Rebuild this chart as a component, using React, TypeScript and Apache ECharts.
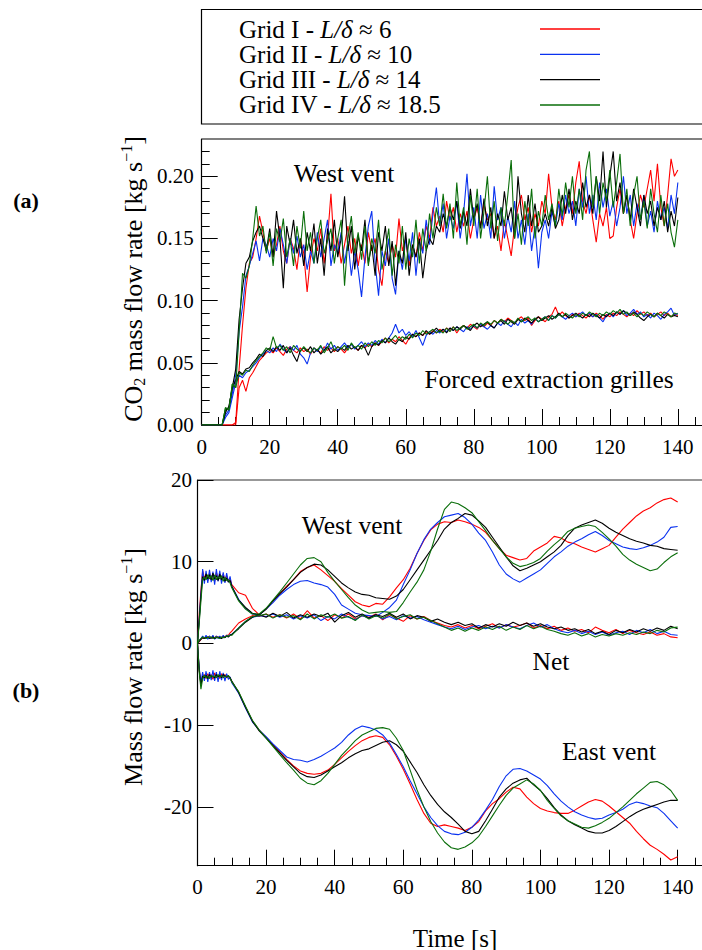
import React, { useEffect, useRef } from 'react';
import * as echarts from 'echarts';

// ---------- labels ----------
const GRID_NAMES = ['Grid I - L/δ ≈ 6', 'Grid II - L/δ ≈ 10', 'Grid III - L/δ ≈ 14', 'Grid IV - L/δ ≈ 18.5'];
const X_MAJOR = [0, 20, 40, 60, 80, 100, 120, 140];
const X_MINOR = [5, 10, 15, 25, 30, 35, 45, 50, 55, 65, 70, 75, 85, 90, 95, 105, 110, 115, 125, 130, 135, 145];
const YA_MAJOR = [0, 0.05, 0.1, 0.15, 0.2];
const YA_MINOR = [0.01, 0.02, 0.03, 0.04, 0.06, 0.07, 0.08, 0.09, 0.11, 0.12, 0.13, 0.14, 0.16, 0.17, 0.18, 0.19, 0.21, 0.22];
const YB_MAJOR = [-20, -10, 0, 10, 20];

// ---------- panel (a): time [s] 0..140 every 1 s ----------
const timeA = Array.from({ length: 141 }, (_, i) => i);

// CO2 mass flow rate, West vent [kg/s]
const westA_I = [0, 0, 0, 0, 0, 0, 0, 0, 0, 0, 0.002,
  0.045, 0.080, 0.110, 0.130, 0.135, 0.150, 0.168, 0.155, 0.140, 0.150,
  0.135, 0.145, 0.160, 0.140, 0.130, 0.150, 0.142, 0.125, 0.150, 0.138,
  0.107, 0.135, 0.150, 0.140, 0.158, 0.130, 0.150, 0.186, 0.140, 0.150,
  0.130, 0.145, 0.160, 0.138, 0.150, 0.128, 0.145, 0.130, 0.155, 0.140,
  0.150, 0.125, 0.112, 0.140, 0.130, 0.145, 0.135, 0.166, 0.140, 0.150,
  0.128, 0.145, 0.135, 0.155, 0.140, 0.160, 0.150, 0.175, 0.160, 0.168,
  0.155, 0.180, 0.165, 0.175, 0.155, 0.170, 0.160, 0.172, 0.150, 0.165,
  0.175, 0.160, 0.178, 0.165, 0.170, 0.150, 0.160, 0.140, 0.165, 0.150,
  0.136, 0.160, 0.175, 0.185, 0.165, 0.175, 0.155, 0.170, 0.160, 0.180,
  0.170, 0.202, 0.175, 0.165, 0.180, 0.160, 0.175, 0.185, 0.170, 0.195,
  0.212, 0.180, 0.170, 0.185, 0.165, 0.147, 0.170, 0.160, 0.175, 0.150,
  0.152, 0.175, 0.190, 0.170, 0.185, 0.165, 0.150, 0.170, 0.185, 0.175,
  0.190, 0.205, 0.180, 0.210, 0.175, 0.160, 0.185, 0.214, 0.200, 0.205];
const westA_II = [0, 0, 0, 0, 0, 0, 0, 0.008, 0.012, 0.025, 0.040,
  0.075, 0.095, 0.120, 0.128, 0.138, 0.148, 0.132, 0.150, 0.145, 0.135,
  0.150, 0.140, 0.158, 0.145, 0.130, 0.150, 0.138, 0.152, 0.135, 0.145,
  0.125, 0.140, 0.130, 0.155, 0.135, 0.150, 0.165, 0.128, 0.145, 0.138,
  0.155, 0.130, 0.148, 0.120, 0.140, 0.125, 0.103, 0.135, 0.160, 0.172,
  0.130, 0.104, 0.140, 0.128, 0.150, 0.118, 0.105, 0.140, 0.125, 0.150,
  0.132, 0.155, 0.120, 0.148, 0.138, 0.165, 0.145, 0.170, 0.191, 0.160,
  0.178, 0.150, 0.168, 0.158, 0.180, 0.150, 0.170, 0.202, 0.160, 0.175,
  0.150, 0.185, 0.158, 0.170, 0.150, 0.192, 0.165, 0.175, 0.150, 0.168,
  0.155, 0.180, 0.150, 0.165, 0.145, 0.170, 0.140, 0.160, 0.126, 0.155,
  0.165, 0.150, 0.172, 0.160, 0.178, 0.165, 0.185, 0.170, 0.180, 0.160,
  0.190, 0.175, 0.200, 0.170, 0.185, 0.165, 0.195, 0.175, 0.190, 0.168,
  0.180, 0.160, 0.175, 0.200, 0.170, 0.185, 0.160, 0.178, 0.165, 0.185,
  0.160, 0.172, 0.155, 0.180, 0.165, 0.175, 0.158, 0.185, 0.170, 0.195];
const westA_III = [0, 0, 0, 0, 0, 0, 0, 0.010, 0.015, 0.030, 0.045,
  0.085, 0.110, 0.130, 0.135, 0.148, 0.155, 0.160, 0.150, 0.140, 0.158,
  0.135, 0.172, 0.150, 0.110, 0.160, 0.145, 0.165, 0.138, 0.150, 0.128,
  0.155, 0.140, 0.162, 0.130, 0.150, 0.120, 0.158, 0.140, 0.165, 0.135,
  0.150, 0.184, 0.140, 0.160, 0.125, 0.152, 0.140, 0.165, 0.130, 0.145,
  0.120, 0.155, 0.140, 0.160, 0.128, 0.148, 0.112, 0.140, 0.130, 0.155,
  0.120, 0.145, 0.135, 0.150, 0.118, 0.140, 0.150, 0.145, 0.160, 0.155,
  0.170, 0.160, 0.175, 0.165, 0.180, 0.158, 0.172, 0.160, 0.190, 0.165,
  0.178, 0.158, 0.182, 0.160, 0.175, 0.150, 0.170, 0.160, 0.188, 0.165,
  0.175, 0.150, 0.200, 0.170, 0.155, 0.185, 0.160, 0.178, 0.155, 0.160,
  0.170, 0.160, 0.175, 0.158, 0.165, 0.185, 0.170, 0.190, 0.165, 0.180,
  0.170, 0.195, 0.175, 0.185, 0.170, 0.200, 0.180, 0.220, 0.175, 0.200,
  0.220, 0.180, 0.195, 0.170, 0.185, 0.165, 0.190, 0.175, 0.160, 0.185,
  0.170, 0.180, 0.160, 0.175, 0.165, 0.180, 0.155, 0.172, 0.160, 0.183];
const westA_IV = [0, 0, 0, 0, 0, 0, 0, 0.014, 0.012, 0.033, 0.030,
  0.075, 0.122, 0.118, 0.128, 0.150, 0.176, 0.152, 0.160, 0.138, 0.155,
  0.128, 0.158, 0.147, 0.166, 0.135, 0.150, 0.128, 0.160, 0.142, 0.172,
  0.140, 0.155, 0.130, 0.150, 0.165, 0.138, 0.148, 0.158, 0.130, 0.150,
  0.165, 0.112, 0.150, 0.168, 0.138, 0.155, 0.133, 0.160, 0.128, 0.150,
  0.138, 0.165, 0.125, 0.140, 0.158, 0.120, 0.145, 0.130, 0.160, 0.125,
  0.150, 0.135, 0.165, 0.130, 0.158, 0.140, 0.170, 0.150, 0.175, 0.160,
  0.186, 0.158, 0.178, 0.150, 0.195, 0.160, 0.175, 0.145, 0.185, 0.160,
  0.190, 0.150, 0.172, 0.200, 0.158, 0.180, 0.148, 0.175, 0.160, 0.185,
  0.213, 0.150, 0.170, 0.145, 0.180, 0.160, 0.190, 0.150, 0.172, 0.160,
  0.185, 0.165, 0.178, 0.160, 0.190, 0.168, 0.195, 0.175, 0.200, 0.170,
  0.190, 0.165, 0.205, 0.220, 0.175, 0.200, 0.170, 0.195, 0.180, 0.205,
  0.175, 0.195, 0.218, 0.170, 0.190, 0.160, 0.185, 0.200, 0.165, 0.180,
  0.158, 0.190, 0.170, 0.155, 0.185, 0.160, 0.178, 0.155, 0.143, 0.165];

// CO2 mass flow rate, forced extraction grilles [kg/s]
const grilleA_I = [0, 0, 0, 0, 0, 0, 0, 0, 0, 0, 0,
  0.030, 0.036, 0.027, 0.038, 0.042, 0.047, 0.052, 0.055, 0.058, 0.060,
  0.058, 0.062, 0.059, 0.056, 0.061, 0.063, 0.060, 0.058, 0.062, 0.059,
  0.061, 0.057, 0.062, 0.060, 0.058, 0.063, 0.060, 0.062, 0.059, 0.063,
  0.061, 0.058, 0.062, 0.065, 0.062, 0.060, 0.064, 0.062, 0.065, 0.063,
  0.066, 0.064, 0.067, 0.070, 0.066, 0.069, 0.067, 0.071, 0.068, 0.065,
  0.070, 0.073, 0.071, 0.074, 0.072, 0.075, 0.073, 0.076, 0.074, 0.077,
  0.075, 0.078, 0.076, 0.079, 0.074, 0.078, 0.080, 0.078, 0.081, 0.079,
  0.077, 0.081, 0.079, 0.082, 0.080, 0.084, 0.082, 0.085, 0.083, 0.086,
  0.084, 0.082, 0.085, 0.087, 0.084, 0.086, 0.080, 0.084, 0.087, 0.085,
  0.083, 0.087, 0.089, 0.095, 0.088, 0.091, 0.088, 0.086, 0.089, 0.087,
  0.090, 0.088, 0.086, 0.089, 0.087, 0.090, 0.088, 0.085, 0.089, 0.087,
  0.090, 0.088, 0.091, 0.089, 0.087, 0.090, 0.088, 0.092, 0.089, 0.091,
  0.088, 0.090, 0.087, 0.089, 0.091, 0.088, 0.090, 0.087, 0.089, 0.088];
const grilleA_II = [0, 0, 0, 0, 0, 0, 0, 0.006, 0.010, 0.022, 0.034,
  0.040, 0.038, 0.042, 0.044, 0.047, 0.050, 0.054, 0.057, 0.060, 0.058,
  0.062, 0.059, 0.065, 0.061, 0.058, 0.063, 0.060, 0.064, 0.057, 0.054,
  0.049, 0.058, 0.062, 0.059, 0.063, 0.060, 0.066, 0.061, 0.064, 0.060,
  0.063, 0.066, 0.062, 0.065, 0.061, 0.064, 0.067, 0.063, 0.066, 0.064,
  0.068, 0.065, 0.069, 0.066, 0.070, 0.074, 0.081, 0.074, 0.077, 0.072,
  0.075, 0.071, 0.076, 0.070, 0.064, 0.072, 0.075, 0.073, 0.076, 0.074,
  0.077, 0.075, 0.078, 0.076, 0.079, 0.077, 0.075, 0.079, 0.077, 0.080,
  0.078, 0.081, 0.079, 0.077, 0.080, 0.078, 0.082, 0.080, 0.084, 0.081,
  0.079, 0.083, 0.080, 0.085, 0.082, 0.084, 0.081, 0.086, 0.083, 0.085,
  0.087, 0.084, 0.088, 0.086, 0.089, 0.087, 0.085, 0.088, 0.090, 0.087,
  0.089, 0.091, 0.088, 0.090, 0.087, 0.089, 0.086, 0.083, 0.088, 0.090,
  0.087, 0.091, 0.089, 0.092, 0.088, 0.090, 0.093, 0.089, 0.091, 0.087,
  0.089, 0.086, 0.090, 0.088, 0.085, 0.089, 0.091, 0.094, 0.088, 0.090];
const grilleA_III = [0, 0, 0, 0, 0, 0, 0, 0.012, 0.014, 0.030, 0.036,
  0.043, 0.041, 0.045, 0.046, 0.050, 0.053, 0.057, 0.055, 0.060, 0.062,
  0.059, 0.063, 0.060, 0.064, 0.058, 0.062, 0.056, 0.051, 0.060, 0.062,
  0.059, 0.063, 0.058, 0.061, 0.057, 0.060, 0.063, 0.058, 0.061, 0.059,
  0.062, 0.060, 0.064, 0.061, 0.063, 0.060, 0.064, 0.062, 0.056, 0.063,
  0.066, 0.064, 0.068, 0.066, 0.070, 0.067, 0.065, 0.069, 0.067, 0.071,
  0.069, 0.073, 0.071, 0.074, 0.072, 0.076, 0.073, 0.075, 0.078, 0.075,
  0.077, 0.074, 0.078, 0.076, 0.079, 0.077, 0.080, 0.078, 0.076, 0.080,
  0.082, 0.079, 0.081, 0.083, 0.080, 0.078, 0.082, 0.084, 0.081, 0.085,
  0.083, 0.081, 0.085, 0.083, 0.086, 0.084, 0.082, 0.085, 0.087, 0.084,
  0.086, 0.088, 0.085, 0.087, 0.090, 0.087, 0.089, 0.086, 0.088, 0.090,
  0.088, 0.086, 0.089, 0.087, 0.090, 0.088, 0.086, 0.089, 0.087, 0.090,
  0.088, 0.091, 0.089, 0.092, 0.090, 0.088, 0.091, 0.089, 0.086, 0.084,
  0.087, 0.089, 0.087, 0.090, 0.088, 0.086, 0.089, 0.087, 0.088, 0.087];
const grilleA_IV = [0, 0, 0, 0, 0, 0, 0, 0.014, 0.012, 0.033, 0.030,
  0.042, 0.040, 0.044, 0.043, 0.048, 0.052, 0.055, 0.058, 0.062, 0.060,
  0.071, 0.062, 0.064, 0.060, 0.063, 0.058, 0.064, 0.061, 0.059, 0.063,
  0.060, 0.058, 0.062, 0.060, 0.064, 0.058, 0.062, 0.067, 0.060, 0.063,
  0.061, 0.064, 0.060, 0.066, 0.062, 0.064, 0.061, 0.066, 0.063, 0.067,
  0.064, 0.068, 0.066, 0.070, 0.067, 0.069, 0.072, 0.068, 0.071, 0.069,
  0.073, 0.070, 0.074, 0.072, 0.076, 0.073, 0.075, 0.077, 0.074, 0.076,
  0.074, 0.078, 0.075, 0.079, 0.076, 0.078, 0.080, 0.077, 0.079, 0.081,
  0.078, 0.082, 0.080, 0.083, 0.081, 0.084, 0.082, 0.085, 0.083, 0.081,
  0.084, 0.082, 0.086, 0.083, 0.085, 0.087, 0.084, 0.086, 0.083, 0.085,
  0.087, 0.084, 0.088, 0.086, 0.089, 0.087, 0.090, 0.088, 0.086, 0.089,
  0.087, 0.090, 0.088, 0.091, 0.089, 0.087, 0.090, 0.088, 0.091, 0.089,
  0.092, 0.090, 0.093, 0.089, 0.091, 0.088, 0.090, 0.087, 0.090, 0.088,
  0.091, 0.089, 0.087, 0.090, 0.088, 0.091, 0.089, 0.087, 0.090, 0.089];

// ---------- panel (b): time [s] ----------
const timeB = [0, 0.5, 1, 1.5, 2, 2.5, 3, 3.5, 4, 4.5, 5, 5.5, 6, 6.5, 7, 7.5, 8, 8.5, 9, 9.5, 10,
  12, 14, 16, 18, 20, 22, 24, 26, 28, 30, 32, 34, 36, 38, 40,
  42, 44, 46, 48, 50, 52, 54, 56, 58, 60, 62, 64, 66, 68, 70,
  72, 74, 76, 78, 80, 82, 84, 86, 88, 90, 92, 94, 96, 98, 100,
  102, 104, 106, 108, 110, 112, 114, 116, 118, 120, 122, 124, 126, 128, 130,
  132, 134, 136, 138, 140];

// Mass flow rate, West vent [kg/s]
const westB_I = [0, 3.5, 6.5, 8.9, 8.0, 8.4, 7.7, 8.6, 7.8, 8.5, 7.6, 8.7, 7.9, 8.4, 7.7, 8.5, 7.8, 8.3, 7.6, 7.9, 7.2,
  6.2, 5.9, 4.3, 3.5, 4.2, 5.2, 6.1, 7.0, 7.8, 8.8, 9.3, 9.6, 9.0, 8.3, 7.6,
  6.7, 5.9, 5.1, 4.7, 4.5, 4.9, 4.8, 5.7, 6.8, 7.8, 9.2, 11.0, 12.6, 13.9, 14.6,
  14.9, 14.8, 15.1, 14.9, 14.6, 14.2, 13.6, 12.6, 11.6, 10.8, 10.5, 10.2, 10.4, 11.3, 11.8,
  12.3, 13.1, 12.9, 12.4, 12.2, 11.8, 11.5, 11.2, 11.6, 12.0, 13.0, 14.0, 14.8, 15.6, 16.2,
  16.6, 17.2, 17.6, 17.8, 17.3];
const westB_II = [0, 3.0, 6.0, 9.1, 7.3, 8.9, 7.4, 9.0, 7.5, 8.8, 7.2, 9.1, 7.6, 8.9, 7.3, 8.7, 7.4, 8.6, 7.5, 8.2, 7.0,
  5.4, 4.3, 3.6, 3.5, 4.2, 5.0, 5.9, 6.6, 7.2, 7.6, 7.7, 7.4, 7.2, 6.9, 6.0,
  4.7, 4.2, 3.7, 3.5, 3.4, 3.3, 3.8, 4.4, 5.3, 7.2, 9.0, 11.0, 12.7, 14.0, 14.8,
  15.5, 15.7, 15.9, 15.4, 14.6, 13.5, 12.6, 11.2, 9.6, 8.5, 7.9, 7.5, 8.0, 8.5, 9.0,
  9.8, 10.6, 11.2, 11.9, 12.4, 12.8, 13.3, 13.7, 13.2, 12.6, 12.2, 11.8, 11.6, 11.5, 11.7,
  12.0, 12.4, 13.0, 14.2, 14.3];
const westB_III = [0, 2.8, 5.8, 8.2, 7.7, 8.5, 7.9, 8.4, 7.8, 8.6, 7.9, 8.3, 7.7, 8.5, 7.8, 8.2, 7.6, 8.0, 7.5, 7.7, 7.0,
  5.3, 4.4, 3.7, 3.5, 4.2, 5.2, 6.1, 6.9, 7.8, 8.7, 9.3, 9.7, 9.6, 9.0, 8.2,
  7.4, 6.8, 6.3, 6.0, 5.9, 5.6, 5.5, 5.4, 5.8, 6.6, 7.8, 9.0, 10.2, 11.4, 12.6,
  14.0, 14.8, 15.3, 15.9, 15.7, 15.0, 14.2, 13.0, 11.8, 10.6, 9.5, 8.9, 9.2, 9.6, 10.0,
  10.6, 11.2, 12.0, 13.2, 14.1, 14.5, 14.8, 15.1, 14.7, 14.1, 13.6, 13.2, 12.8, 12.5, 12.3,
  12.0, 11.9, 11.6, 11.5, 11.4];
const westB_IV = [0, 2.5, 5.2, 7.9, 8.1, 7.8, 8.4, 7.9, 8.3, 7.7, 8.4, 7.8, 8.2, 7.9, 8.3, 7.6, 8.1, 7.7, 7.8, 7.4, 6.8,
  5.2, 4.2, 3.6, 3.6, 4.3, 5.3, 6.3, 7.4, 8.5, 9.6, 10.4, 10.5, 10.0, 8.7, 7.6,
  6.6, 5.6, 4.7, 4.1, 3.7, 3.8, 3.9, 3.8, 3.9, 5.0, 6.3, 7.5, 9.0, 11.3, 14.0,
  16.4, 17.3, 17.1, 16.6, 16.0, 14.9, 13.8, 12.6, 11.6, 10.6, 9.8, 9.4, 9.6, 9.9, 10.4,
  11.3, 12.1, 12.8, 13.7, 14.1, 14.3, 14.5, 14.3, 13.6, 12.8, 11.9, 10.9, 10.2, 9.7, 9.3,
  8.9, 9.1, 9.9, 10.6, 11.1];

// Mass flow rate, net [kg/s]
const netB_I = [0, 0.2, 0.5, 0.7, 0.6, 0.8, 0.7, 0.9, 0.6, 0.8, 0.7, 0.9, 0.7, 0.8, 0.7, 0.9, 0.8, 1.0, 1.0, 1.3, 1.5,
  2.5, 3.0, 3.4, 3.3, 3.6, 3.2, 3.5, 3.1, 3.6, 3.0, 4.0, 3.1, 3.4, 2.8, 3.5,
  3.1, 3.6, 3.0, 3.4, 3.2, 3.6, 2.9, 3.5, 3.1, 2.7, 3.4, 3.0, 3.3, 2.8, 2.5,
  2.2, 2.0, 2.3, 1.9, 2.2, 1.8, 2.1, 2.4, 1.9, 2.3, 2.0, 2.2, 2.5, 1.9, 2.2,
  1.8, 2.1, 1.6, 1.9, 1.5, 1.7, 1.3, 2.0, 1.6, 1.3, 1.7, 1.2, 1.6, 1.3, 1.1,
  1.4, 1.0, 1.2, 0.8, 0.7];
const netB_II = [0, 0.3, 0.6, 0.9, 0.6, 1.0, 0.5, 0.9, 0.6, 1.0, 0.5, 0.9, 0.6, 0.9, 0.6, 1.0, 0.7, 1.0, 0.8, 1.1, 1.1,
  1.9, 2.7, 3.2, 3.4, 3.3, 3.6, 3.2, 3.5, 3.0, 3.4, 3.1, 3.5, 2.8, 3.3, 3.0,
  3.6, 3.2, 2.9, 3.4, 3.1, 3.5, 3.0, 3.3, 2.9, 3.4, 3.1, 3.3, 2.9, 2.6, 2.3,
  2.0, 1.8, 2.1, 1.7, 2.0, 2.2, 1.8, 2.1, 1.9, 2.3, 2.0, 1.8, 2.2, 2.5, 2.0,
  2.3, 1.8, 1.5, 1.3, 1.6, 1.2, 1.5, 1.1, 1.4, 1.0, 1.3, 1.5, 1.1, 1.6, 1.3,
  1.7, 1.2, 1.5, 1.1, 1.0];
const netB_III = [0, 0.3, 0.5, 0.7, 0.6, 0.7, 0.8, 0.6, 0.7, 0.8, 0.6, 0.7, 0.8, 0.7, 0.6, 0.8, 0.7, 0.9, 0.8, 1.0, 1.1,
  1.8, 2.6, 3.2, 3.5, 3.2, 3.7, 3.3, 3.8, 3.1, 3.5, 3.2, 3.6, 3.3, 3.7, 2.6,
  3.4, 3.8, 3.2, 3.6, 3.1, 3.5, 3.3, 3.7, 3.2, 3.6, 3.0, 3.4, 3.2, 2.7, 3.0,
  2.6, 2.3, 2.6, 2.2, 2.4, 1.9, 2.3, 2.0, 2.4, 2.1, 2.6, 2.2, 2.5, 2.1, 2.4,
  2.0, 1.8, 2.0, 1.6, 1.8, 1.4, 1.7, 1.2, 1.5, 1.1, 1.6, 1.3, 1.7, 1.4, 1.8,
  1.5, 1.9, 1.6, 2.1, 1.8];
const netB_IV = [0, 0.4, 0.6, 0.8, 0.7, 0.6, 0.8, 0.7, 0.8, 0.6, 0.7, 0.8, 0.7, 0.6, 0.8, 0.7, 0.8, 0.9, 0.9, 1.0, 1.0,
  1.9, 2.7, 3.3, 3.4, 3.6, 3.1, 3.5, 3.2, 3.4, 2.9, 3.6, 3.0, 3.5, 3.2, 3.6,
  3.1, 3.3, 2.8, 3.5, 3.0, 3.4, 3.1, 3.6, 3.0, 3.3, 3.5, 3.0, 3.2, 2.8, 2.4,
  2.0, 1.6, 1.9, 1.5, 1.9, 1.6, 2.0, 1.7, 2.1, 1.6, 2.0, 1.7, 2.2, 1.8, 2.1,
  1.7, 1.5, 1.2, 1.0, 1.3, 0.9, 1.2, 0.8, 1.1, 0.9, 1.2, 1.0, 1.3, 1.1, 1.4,
  1.2, 1.6, 1.4, 1.9, 2.0];

// Mass flow rate, East vent [kg/s]
const eastB_I = [0, -3.2, -5.0, -4.1, -3.8, -4.3, -3.7, -4.2, -3.8, -4.4, -3.6, -4.2, -3.9, -4.3, -3.7, -4.1, -3.8, -4.2, -4.0, -4.3, -4.7,
  -6.0, -7.8, -9.5, -10.6, -11.5, -12.4, -13.3, -14.2, -15.0, -15.6, -15.9, -16.0, -15.9, -15.5, -14.8,
  -14.0, -13.2, -12.5, -11.9, -11.5, -11.3, -11.5, -12.4, -13.8, -15.4, -17.2, -19.1, -20.8, -22.0, -22.4,
  -22.2, -22.4, -22.6, -22.9, -22.5, -21.8, -20.5, -19.6, -19.0, -18.2, -17.6, -17.8, -18.8, -19.6, -20.2,
  -20.5, -20.7, -20.8, -20.8, -20.4, -19.9, -19.4, -19.1, -19.3, -19.9, -20.6, -21.3, -22.0, -23.0, -23.9,
  -24.7, -25.2, -25.8, -26.5, -26.1];
const eastB_II = [0, -3.0, -4.8, -3.5, -4.6, -3.4, -4.7, -3.5, -4.5, -3.3, -4.6, -3.5, -4.7, -3.4, -4.5, -3.6, -4.6, -3.7, -4.4, -4.1, -4.8,
  -6.1, -7.9, -9.6, -10.6, -11.4, -12.3, -13.1, -13.9, -14.2, -14.3, -14.5, -14.2, -13.8, -13.3, -12.8,
  -12.1, -11.2, -10.5, -10.1, -10.3, -10.6, -11.2, -12.2, -13.6, -15.1, -16.8, -18.4, -20.0, -21.3, -22.3,
  -23.0, -23.3, -23.4, -23.1, -22.5, -21.6, -20.4, -19.1, -17.5, -16.2, -15.4, -15.3, -15.6, -16.1, -16.6,
  -17.4, -18.4, -19.3, -20.0, -20.6, -21.0, -21.3, -21.5, -21.4, -21.0, -20.7, -20.3, -19.7, -19.4, -19.6,
  -19.9, -20.1, -20.8, -21.7, -22.6];
const eastB_III = [0, -3.3, -5.1, -4.0, -4.2, -3.9, -4.3, -3.8, -4.1, -4.0, -4.2, -3.8, -4.1, -3.9, -4.2, -3.8, -4.0, -4.1, -4.0, -4.2, -4.6,
  -6.0, -7.8, -9.5, -10.7, -11.6, -12.5, -13.4, -14.3, -15.1, -15.9, -16.3, -16.4, -16.1, -15.6, -15.1,
  -14.6, -14.0, -13.5, -13.1, -12.9, -12.5, -12.1, -11.9, -12.4, -13.2, -14.5, -15.8, -17.3, -18.6, -19.7,
  -20.6, -21.3, -22.1, -23.0, -23.3, -23.0, -21.7, -20.3, -18.8, -17.8, -17.1, -16.7, -16.5, -17.3, -18.0,
  -19.0, -20.1, -21.0, -21.7, -22.2, -22.6, -23.0, -23.2, -23.2, -22.9, -22.4, -21.8, -21.2, -20.7, -20.3,
  -20.0, -19.7, -19.4, -19.2, -19.2];
const eastB_IV = [0, -3.5, -5.6, -4.3, -3.9, -4.2, -4.0, -4.3, -3.9, -4.1, -4.0, -4.2, -3.8, -4.1, -3.9, -4.2, -4.0, -4.1, -3.9, -4.3, -4.7,
  -5.9, -7.7, -9.4, -10.6, -11.6, -12.6, -13.6, -14.6, -15.5, -16.5, -17.1, -17.3, -16.8, -15.9, -14.8,
  -13.7, -12.8, -11.9, -11.2, -10.8, -10.4, -10.3, -10.5, -11.6, -13.1, -15.5, -17.9, -20.0, -21.8, -23.2,
  -24.3, -25.0, -25.2, -24.9, -24.4, -23.6, -22.4, -21.1, -19.8, -18.6, -17.7, -17.2, -16.7, -17.2, -18.0,
  -19.2, -20.2, -21.1, -21.7, -22.1, -22.5, -22.6, -22.3, -21.9, -21.4, -20.7, -20.0, -19.2, -18.4, -17.7,
  -17.0, -16.9, -17.3, -18.0, -19.2];

// ---------- styling ----------
const COLORS = ['#ff0000', '#0a32f0', '#000000', '#0a6e0a'];
const FONT = '"Liberation Serif", "Times New Roman", serif';

const WEST_A = [westA_I, westA_II, westA_III, westA_IV];
const GRILLE_A = [grilleA_I, grilleA_II, grilleA_III, grilleA_IV];
const WEST_B = [westB_I, westB_II, westB_III, westB_IV];
const NET_B = [netB_I, netB_II, netB_III, netB_IV];
const EAST_B = [eastB_I, eastB_II, eastB_III, eastB_IV];

function lineSeries(k: number, times: number[], values: number[], xi: number, yi: number) {
  return {
    type: 'line',
    name: GRID_NAMES[k],
    data: times.map((t, i) => [t, values[i]]),
    xAxisIndex: xi,
    yAxisIndex: yi,
    symbol: 'none',
    showSymbol: false,
    clip: true,
    silent: true,
    z: 2 + k,
    lineStyle: { color: COLORS[k], width: 1.1 },
    itemStyle: { color: COLORS[k] },
    emphasis: { disabled: true },
  };
}

function textEl(text: string, x: number, y: number, size: number, extra: any = {}) {
  return {
    type: 'text',
    x,
    y,
    silent: true,
    z: 10,
    ...extra,
    style: {
      text,
      fill: '#000',
      fontFamily: FONT,
      fontSize: size,
      align: 'center',
      verticalAlign: 'middle',
      textAlign: 'center',
      textVerticalAlign: 'middle',
      ...(extra.style || {}),
    },
  };
}

const XMAX = 147.1;

function majorX(grid: number) {
  return {
    gridIndex: grid, type: 'value', position: 'bottom', min: 0, max: XMAX,
    axisLine: { show: true, onZero: false, lineStyle: { color: '#000', width: 1.2 } },
    axisTick: { show: true, inside: true, length: 16, customValues: X_MAJOR, lineStyle: { color: '#000', width: 1 } },
    axisLabel: { show: true, customValues: X_MAJOR, fontFamily: FONT, fontSize: 21, color: '#000', margin: 11 },
    splitLine: { show: false },
  };
}
function minorX(grid: number) {
  return {
    gridIndex: grid, type: 'value', position: 'bottom', min: 0, max: XMAX,
    axisLine: { show: false, onZero: false },
    axisTick: { show: true, inside: true, length: 8, customValues: X_MINOR, lineStyle: { color: '#000', width: 1 } },
    axisLabel: { show: false },
    splitLine: { show: false },
  };
}

export default function App() {
  const ref = useRef<HTMLDivElement>(null);
  useEffect(() => {
    if (!ref.current) return;
    const chart = echarts.init(ref.current, undefined, { renderer: 'svg' });
    const series: any[] = [];
    for (let k = 0; k < 4; k++) series.push(lineSeries(k, timeA, WEST_A[k], 0, 0));
    for (let k = 0; k < 4; k++) series.push(lineSeries(k, timeA, GRILLE_A[k], 0, 0));
    for (let k = 0; k < 4; k++) series.push(lineSeries(k, timeB, WEST_B[k], 2, 2));
    for (let k = 0; k < 4; k++) series.push(lineSeries(k, timeB, NET_B[k], 2, 2));
    for (let k = 0; k < 4; k++) series.push(lineSeries(k, timeB, EAST_B[k], 2, 2));

    const richLegend = {
      n: { fontFamily: FONT, fontSize: 25, color: '#000', align: 'left', lineHeight: 25 },
      i: { fontFamily: FONT, fontSize: 25, color: '#000', fontStyle: 'italic', align: 'left', lineHeight: 25 },
    };
    const richName = {
      sub: { fontFamily: FONT, fontSize: 16, color: '#000', padding: [12, 0, 0, 0] },
      sup: { fontFamily: FONT, fontSize: 16, color: '#000', padding: [0, 0, 14, 0] },
    };

    chart.setOption({
      animation: false,
      backgroundColor: '#ffffff',
      textStyle: { fontFamily: FONT },
      grid: [
        { left: 201.7, top: 139, right: 0, height: 286, containLabel: false },
        { left: 197.5, top: 480, right: 0, height: 385.7, containLabel: false },
      ],
      legend: {
        orient: 'vertical',
        left: 239,
        top: 16.5,
        padding: 0,
        align: 'right',
        icon: 'rect',
        itemWidth: 60,
        itemHeight: 1.4,
        itemGap: 0.33,
        data: GRID_NAMES,
        formatter: (name: string) => {
          const parts = name.split('L/δ');
          return `{n|${parts[0]}}{i|L/δ}{n|${parts[1]}}`;
        },
        textStyle: { fontFamily: FONT, fontSize: 25, color: '#000', width: 296, lineHeight: 25, rich: richLegend },
      },
      xAxis: [majorX(0), minorX(0), majorX(1), minorX(1)],
      yAxis: [
        {
          gridIndex: 0, type: 'value', position: 'left', min: 0, max: 0.23,
          axisLine: { show: true, onZero: false, lineStyle: { color: '#000', width: 1.2 } },
          axisTick: { show: true, inside: true, length: 16, customValues: YA_MAJOR, lineStyle: { color: '#000' } },
          axisLabel: { customValues: YA_MAJOR, formatter: (v: number) => v.toFixed(2), fontFamily: FONT, fontSize: 21, color: '#000', margin: 8 },
          splitLine: { show: false },
        },
        {
          gridIndex: 0, type: 'value', position: 'left', min: 0, max: 0.23,
          axisLine: { show: false, onZero: false },
          axisTick: { show: true, inside: true, length: 8, customValues: YA_MINOR, lineStyle: { color: '#000' } },
          axisLabel: { show: false },
          splitLine: { show: false },
        },
        {
          gridIndex: 1, type: 'value', position: 'left', min: -27.2, max: 20,
          axisLine: { show: true, onZero: false, lineStyle: { color: '#000', width: 1.2 } },
          axisTick: { show: true, inside: true, length: 16, customValues: YB_MAJOR, lineStyle: { color: '#000' } },
          axisLabel: { customValues: YB_MAJOR, formatter: (v: number) => String(v), fontFamily: FONT, fontSize: 21, color: '#000', margin: 5.5 },
          splitLine: { show: false },
        },
      ],
      series,
      graphic: [
        // legend frame and panel top borders
        { type: 'rect', silent: true, shape: { x: 201.5, y: 9.5, width: 540, height: 114.5 }, style: { fill: 'none', stroke: '#000', lineWidth: 1.2 } },
        { type: 'line', silent: true, shape: { x1: 201.7, y1: 139, x2: 702, y2: 139 }, style: { stroke: '#555', lineWidth: 1.5 } },
        { type: 'line', silent: true, shape: { x1: 197.5, y1: 480, x2: 702, y2: 480 }, style: { stroke: '#333', lineWidth: 1.2 } },
        // annotations
        textEl('West vent', 344, 173, 25.5),
        textEl('Forced extraction grilles', 549, 379, 25.5),
        textEl('West vent', 352, 525, 25.5),
        textEl('Net', 551, 661, 25.5),
        textEl('East vent', 609, 751, 25.5),
        textEl('Time [s]', 455, 938, 25),
        textEl('(a)', 26, 200, 22, { style: { fontWeight: 'bold' } }),
        textEl('(b)', 26, 690, 22, { style: { fontWeight: 'bold' } }),
        textEl('CO{sub|2} mass flow rate [kg s{sup|−1}]', 133, 279, 26, { rotation: Math.PI / 2, style: { rich: richName } }),
        textEl('Mass flow rate [kg s{sup|−1}]', 133, 667, 26, { rotation: Math.PI / 2, style: { rich: richName } }),
      ],
    });
    return () => chart.dispose();
  }, []);
  return (
    <div
      ref={ref}
      style={{ position: 'fixed', left: 0, top: 0, width: 702, height: 950, background: '#fff' }}
    />
  );
}
